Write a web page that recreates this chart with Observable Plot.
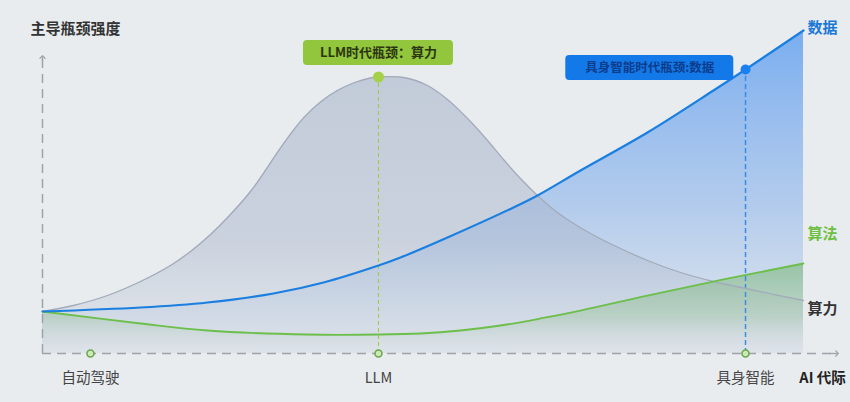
<!DOCTYPE html>
<html>
<head>
<meta charset="utf-8">
<script src="https://cdn.jsdelivr.net/npm/d3@7"></script>
<script src="https://cdn.jsdelivr.net/npm/@observablehq/plot@0.6"></script>
<style>
  html, body { margin: 0; padding: 0; background: #e9ecef; }
  #chart svg { display: block; }
</style>
</head>
<body>
<div id="chart"></div>
<script>
// ---- Data ----
const yTitle = "主导瓶颈强度";
const xTitle = "AI 代际";
const categories = ["自动驾驶", "LLM", "具身智能"];
const categoryX = [6.3, 44.15, 92.38];

// 算力 (compute) – bell curve
const computeX = [0, 4.07, 8.54, 12.88, 16.82, 19.45, 22.08, 24.70, 27.33, 29.04, 30.88, 32.59, 34.30, 36.53, 38.76, 40.87, 43.10, 44.15,
                  47.44, 50.59, 53.22, 56.24, 58.48, 60.58, 62.81, 65.05, 67.15, 69.38, 72.01, 75.95, 79.50, 83.84, 88.17, 93.04, 100];
const computeY = [14, 16, 19.33, 24, 29.33, 34, 39.67, 46.33, 54, 60.07, 67.07, 73.13, 78.53, 83.87, 87.67, 90.17, 91.83, 92.17,
                  92, 89.33, 84.67, 77.33, 71, 64.67, 58.33, 52.67, 48, 44, 40, 35, 31, 27, 24, 21.33, 17.67];

// 数据 (data) – rising curve
const dataX = [0, 12.88, 21.68, 30.35, 36.93, 44.15, 47.04, 53.22, 61.89, 65.05, 70.70, 79.50, 88.17, 92.38, 100];
const dataY = [14, 15.33, 17, 20, 23.67, 29.33, 32, 38.67, 48.67, 52.67, 61, 73.67, 87.67, 94.67, 107.67];

// 算法 (algorithm) – dip then rise
const algoX = [0, 12.88, 21.68, 34.82, 44.15, 49.67, 54.93, 60.18, 65.44, 70.70, 79.50, 89.49, 100];
const algoY = [14, 10, 7.67, 6.33, 6.33, 6.67, 7.67, 9.33, 11.67, 14.33, 19.33, 24.67, 30];

const seriesLabels = ["数据", "算法", "算力"];
const seriesLabelY = [108.3, 39.7, 14.7];
const seriesColors = ["#1a78d6", "#6cbf3f", "#333333"];

// annotations
const annoLabels = ["LLM时代瓶颈：算力", "具身智能时代瓶颈:数据"];
const annoPointX = [44.15, 92.38];
const annoPointY = [92.17, 94.67];
const annoBoxX = [44.15, 79.8];
const annoBoxY = [100.2, 95.2];

// ---- Tables ----
const compute = computeX.map((x, i) => ({x, y: computeY[i]}));
const dataS = dataX.map((x, i) => ({x, y: dataY[i]}));
const algo = algoX.map((x, i) => ({x, y: algoY[i]}));
const cats = categories.map((c, i) => ({c, x: categoryX[i]}));
const rightLabels = seriesLabels.map((t, i) => ({t, y: seriesLabelY[i], color: seriesColors[i]}));
const annos = annoLabels.map((t, i) => ({t, px: annoPointX[i], py: annoPointY[i], bx: annoBoxX[i], by: annoBoxY[i]}));

const FONT = "'Noto Sans CJK SC', 'Noto Sans', sans-serif";
const curve = "catmull-rom";

const plot = Plot.plot({
  width: 850,
  height: 402,
  marginLeft: 42,
  marginRight: 47,
  marginTop: 23,
  marginBottom: 49,
  style: {background: "#e9ecef", fontFamily: FONT, overflow: "visible"},
  x: {domain: [0, 100], axis: null},
  y: {domain: [0, 110], axis: null},
  marks: [
    // areas
    Plot.areaY(dataS, {x: "x", y1: 0, y2: "y", curve, fill: "url(#gBlue)"}),
    Plot.areaY(compute, {x: "x", y1: 0, y2: "y", curve, fill: "url(#gGray)"}),
    Plot.areaY(algo, {x: "x", y1: 0, y2: "y", curve, fill: "url(#gGreen)"}),
    // axes (dashed)
    Plot.ruleY([0], {x1: 0, x2: 104.2, stroke: "#9ea3ab", strokeWidth: 1.5, strokeDasharray: "9,6"}),
    Plot.ruleX([0], {y1: 0, y2: 98.5, stroke: "#9ea3ab", strokeWidth: 1.5, strokeDasharray: "9,6"}),
    Plot.link([0], {x1: 103.4, x2: 104.4, y1: 0, y2: 0, stroke: "#9ea3ab", strokeWidth: 1.3, markerEnd: "arrow"}),
    Plot.link([0], {x1: 0, x2: 0, y1: 97.5, y2: 98.8, stroke: "#9ea3ab", strokeWidth: 1.3, markerEnd: "arrow"}),
    // annotation guide rules
    Plot.ruleX([annos[0]], {x: "px", y1: 0, y2: "py", stroke: "#9acd3a", strokeWidth: 1, strokeDasharray: "4,3"}),
    Plot.ruleX([annos[1]], {x: "px", y1: 0, y2: "py", stroke: "#3b8be8", strokeWidth: 1.5, strokeDasharray: "5,3"}),
    // lines
    Plot.line(compute, {x: "x", y: "y", curve, stroke: "#a3abba", strokeWidth: 1.3}),
    Plot.line(algo, {x: "x", y: "y", curve, stroke: "#6cbf4a", strokeWidth: 1.8}),
    Plot.line(dataS, {x: "x", y: "y", curve, stroke: "#1a7fe0", strokeWidth: 2.2}),
    // category tick dots
    Plot.dot(cats, {x: "x", y: 0, r: 3.5, stroke: "#6aa84f", strokeWidth: 1.6, fill: "#cfe8b8"}),
    // annotation points
    Plot.dot([annos[0]], {x: "px", y: "py", r: 5.5, fill: "#a5d14a", stroke: "none"}),
    Plot.dot([annos[1]], {x: "px", y: "py", r: 5, fill: "#1a80f0", stroke: "none"}),
    // annotation boxes
    Plot.rect([annos[0]], {x1: "bx", x2: "bx", y1: "by", y2: "by", insetLeft: -75, insetRight: -75, insetTop: -12.5, insetBottom: -12.5, rx: 4, fill: "#92c63c"}),
    Plot.rect([annos[1]], {x1: "bx", x2: "bx", y1: "by", y2: "by", insetLeft: -84, insetRight: -84, insetTop: -12.5, insetBottom: -12.5, rx: 4, fill: "#1479e8"}),
    Plot.text([annos[0]], {x: "bx", y: "by", text: "t", fill: "#2b3514", fontSize: 13, fontWeight: "bold"}),
    Plot.text([annos[1]], {x: "bx", y: "by", text: "t", fill: "#0c3c8c", fontSize: 12.5, fontWeight: "bold"}),
    // category labels
    Plot.text(cats, {x: "x", y: 0, text: "c", dy: 25, fontSize: 14.5, fill: "#444"}),
    Plot.text([xTitle], {x: 102.5, y: 0, text: d => d, dy: 25, fontSize: 14.5, fontWeight: "bold", fill: "#222"}),
    // y title
    Plot.text([yTitle], {x: 0, y: 108, text: d => d, dx: -12, textAnchor: "start", fontSize: 15, fontWeight: "bold", fill: "#333"}),
    // series labels on the right
    Plot.text(rightLabels, {x: 100, y: "y", text: "t", fill: "color", dx: 4, textAnchor: "start", fontSize: 15, fontWeight: "bold"})
  ]
});

const svg = d3.select(plot.tagName.toLowerCase() === "svg" ? plot : plot.querySelector("svg"));
const defs = svg.insert("defs", ":first-child");
function grad(id, stops) {
  const g = defs.append("linearGradient").attr("id", id).attr("x1", 0).attr("y1", 0).attr("x2", 0).attr("y2", 1);
  stops.forEach(([o, c, a]) => g.append("stop").attr("offset", o).attr("stop-color", c).attr("stop-opacity", a));
}
grad("gBlue", [[0, "#5a9cf0", 0.78], [0.55, "#8fb6ea", 0.6], [1, "#dbe2ea", 0.5]]);
grad("gGray", [[0, "#a6b3c9", 0.58], [0.6, "#a9b6cc", 0.48], [1, "#d6dbe2", 0.35]]);
grad("gGreen", [[0, "#6fb36a", 0.55], [0.6, "#8fbf8c", 0.35], [1, "#cdd6d8", 0.0]]);

document.getElementById("chart").append(plot);
</script>
</body>
</html>
